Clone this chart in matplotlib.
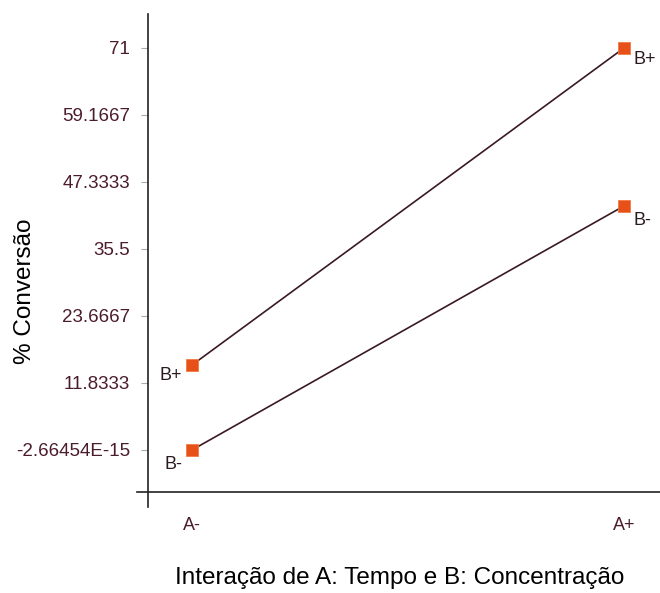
import matplotlib
matplotlib.use('Agg')
import matplotlib.pyplot as plt

plt.rcParams['font.family'] = ['Liberation Sans', 'DejaVu Sans']

# dados do gráfico de interação
fator_a = ["A-", "A+"]
conv_b_mais = [15.0, 71.0]
conv_b_menos = [0.0, 43.1]
y_ticks = [-2.66454e-15, 11.8333, 23.6667, 35.5, 47.3333, 59.1667, 71]
y_tick_labels = ["-2.66454E-15", "11.8333", "23.6667", "35.5", "47.3333", "59.1667", "71"]

cor_texto = '#4b1c2c'
cor_linha = '#3a1a22'
cor_marca = '#e8501a'

W, H = 660, 593
fig = plt.figure(figsize=(W / 100, H / 100), dpi=100)
ax = fig.add_axes([137 / W, 1 - 507 / H, (660 - 137) / W, (507 - 14) / H])

x = [0, 1]
for serie in (conv_b_mais, conv_b_menos):
    ax.plot(x, serie, color=cor_linha, lw=1.2, zorder=2)
    ax.plot(x, serie, ls='none', marker='s', ms=8, mfc=cor_marca,
            mec='#f07a40', mew=0.6, zorder=3)

# rótulos B+ / B- nos pontos
ax.text(-0.023, conv_b_mais[0] - 1.8, "B+", ha='right', va='center', fontsize=13, color='#2a1a20')
ax.text(-0.023, conv_b_menos[0] - 2.6, "B-", ha='right', va='center', fontsize=13, color='#2a1a20')
ax.text(1.023, conv_b_mais[1] - 2.1, "B+", ha='left', va='center', fontsize=13, color='#2a1a20')
ax.text(1.023, conv_b_menos[1] - 2.5, "B-", ha='left', va='center', fontsize=13, color='#2a1a20')

ax.set_xlim(-0.1273, 1.0833)
ax.set_ylim(-10.07, 77.0)

for s in ('top', 'right'):
    ax.spines[s].set_visible(False)
ax.spines['left'].set_position(('data', -0.1019))
ax.spines['bottom'].set_position(('data', -7.42))
ax.spines['left'].set_color('#222222')
ax.spines['bottom'].set_color('#222222')
ax.spines['left'].set_linewidth(1.2)
ax.spines['bottom'].set_linewidth(1.2)

ax.set_yticks(y_ticks)
ax.set_yticklabels(y_tick_labels)
ax.tick_params(axis='y', length=5, color='#aaaaaa', labelcolor=cor_texto, labelsize=13.5, pad=8)

ax.set_xticks(x)
ax.set_xticklabels(fator_a)
ax.tick_params(axis='x', length=0, labelcolor=cor_texto, labelsize=13, pad=18)

fig.text(400 / W, 1 - 578 / H, "Interação de A: Tempo e B: Concentração",
         ha='center', va='center', fontsize=17.5)
fig.text(25 / W, 1 - 291 / H, "% Conversão", rotation=90, ha='center', va='center', fontsize=17.5)

fig.savefig('out.png', dpi=100)
plt.close()
